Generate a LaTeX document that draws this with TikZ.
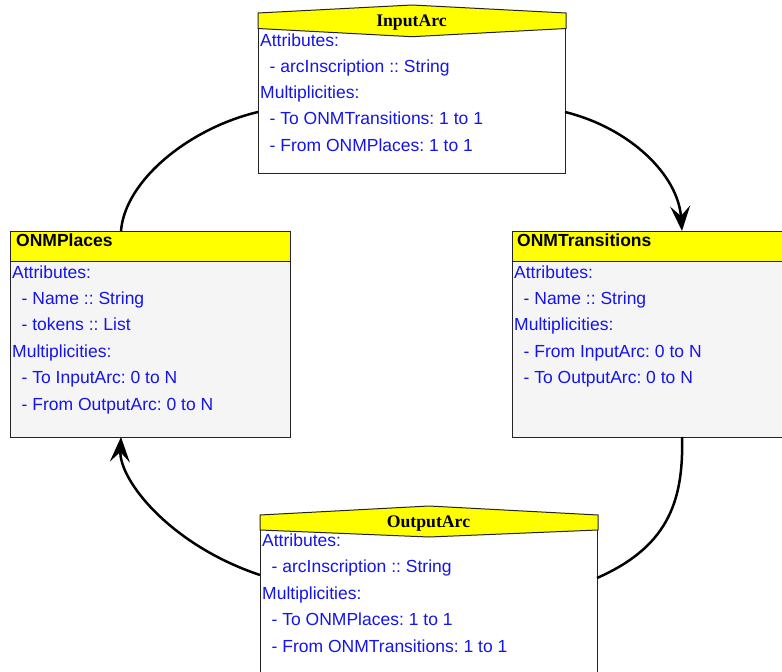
\documentclass[tikz,border=0pt]{standalone}
\usepackage{fontspec}
\setmainfont{Liberation Sans}
\newfontfamily\titleserif{Liberation Serif}
\usetikzlibrary{arrows.meta,calc}

\definecolor{hdryellow}{RGB}{255,255,0}
\definecolor{bodygray}{RGB}{245,245,245}
\definecolor{textblue}{RGB}{20,20,235}
\definecolor{boxedge}{RGB}{35,35,35}

\newcommand{\ind}{\hspace*{9.5pt}}

\begin{document}
\begin{tikzpicture}[x=1pt,y=-1pt,
  classbox/.style={draw=boxedge, line width=1pt, anchor=north west, inner sep=0pt},
  headshape/.style={draw=boxedge, line width=1pt, fill=hdryellow},
  memberline/.style={anchor=base west, inner sep=0pt, text=textblue,
    font=\fontsize{17.5}{20}\selectfont\frenchspacing},
  sanstitle/.style={anchor=west, inner sep=0pt, font=\fontsize{17.5}{20}\selectfont\bfseries},
  seriftitle/.style={anchor=base, inner sep=0pt, font=\fontsize{17.7}{20}\selectfont\titleserif\bfseries},
  link/.style={line width=2.5pt, black},
  tip/.style={-{Stealth[length=25pt,width=20pt,inset=10pt]}}
]
\useasboundingbox (0,0) rectangle (782,672);
\clip (0,0) rectangle (782,672);

% ---- ONMPlaces ----
\node[classbox, fill=bodygray, minimum width=280pt, minimum height=206pt] (places) at (10,231) {};
\node[classbox, fill=hdryellow, minimum width=280pt, minimum height=30pt] (placesHead) at (10,231) {};
\node[sanstitle] (placesTitle) at (16,240) {ONMPlaces};
\foreach \t [count=\i] in {Attributes:, \ind- Name :: String, \ind- tokens :: List,
    Multiplicities:, \ind- To InputArc: 0 to N, \ind- From OutputArc: 0 to N}
  \node[memberline] (places-\i) at (12,{278+26.4*(\i-1)}) {\t};

% ---- ONMTransitions ----
\node[classbox, fill=bodygray, minimum width=280pt, minimum height=206pt] (trans) at (512,231) {};
\node[classbox, fill=hdryellow, minimum width=280pt, minimum height=30pt] (transHead) at (512,231) {};
\node[sanstitle] (transTitle) at (517,240) {ONMTransitions};
\foreach \t [count=\i] in {Attributes:, \ind- Name :: String, Multiplicities:,
    \ind- From InputArc: 0 to N, \ind- To OutputArc: 0 to N}
  \node[memberline] (trans-\i) at (514,{278+26.4*(\i-1)}) {\t};

% ---- InputArc ----
\node[classbox, fill=white, minimum width=307pt, minimum height=160pt] (inarc) at (258,13) {};
\path[headshape] (inarc.north west) -- ($(inarc.north)+(0,-8)$) -- (inarc.north east)
  -- ($(inarc.north east)+(0,15.5)$) -- ($(inarc.north)+(0,23.7)$)
  -- ($(inarc.north west)+(0,15.5)$) -- cycle;
\node[seriftitle] (inarcTitle) at (411.5,26.7) {InputArc};
\foreach \t [count=\i] in {Attributes:, \ind- arcInscription :: String, Multiplicities:,
    \ind- To ONMTransitions: 1 to 1, \ind- From ONMPlaces: 1 to 1}
  \node[memberline] (inarc-\i) at (260,{46+26.3*(\i-1)}) {\t};

% ---- OutputArc ----
\node[classbox, fill=white, minimum width=337pt, minimum height=200pt] (outarc) at (260,515) {};
\path[headshape] (outarc.north west) -- ($(outarc.north)+(0,-9)$) -- (outarc.north east)
  -- ($(outarc.north east)+(0,15)$) -- ($(outarc.north)+(0,22)$)
  -- ($(outarc.north west)+(0,15)$) -- cycle;
\node[seriftitle] (outarcTitle) at (428.5,527) {OutputArc};
\foreach \t [count=\i] in {Attributes:, \ind- arcInscription :: String, Multiplicities:,
    \ind- To ONMPlaces: 1 to 1, \ind- From ONMTransitions: 1 to 1}
  \node[memberline] (outarc-\i) at (262,{546+26.5*(\i-1)}) {\t};

% ---- connection points ----
\coordinate (inL) at (258,112);
\coordinate (inR) at (565,112);
\coordinate (placesTop) at (121,231);
\coordinate (placesBot) at (121,437);
\coordinate (transTop) at (682,231);
\coordinate (transBot) at (682,437);
\coordinate (outL) at (260,575);
\coordinate (outR) at (597,578);

% ---- connectors ----
\draw[link] (inL) .. controls (190,128) and (125,180) .. (placesTop);
\draw[link, tip] (inR) .. controls (630,128) and (678,175) .. (transTop);
\draw[link] (transBot) .. controls (684,505) and (665,548) .. (outR);
\draw[link, tip] (outL) .. controls (170,545) and (119,480) .. (placesBot);
\end{tikzpicture}
\end{document}
